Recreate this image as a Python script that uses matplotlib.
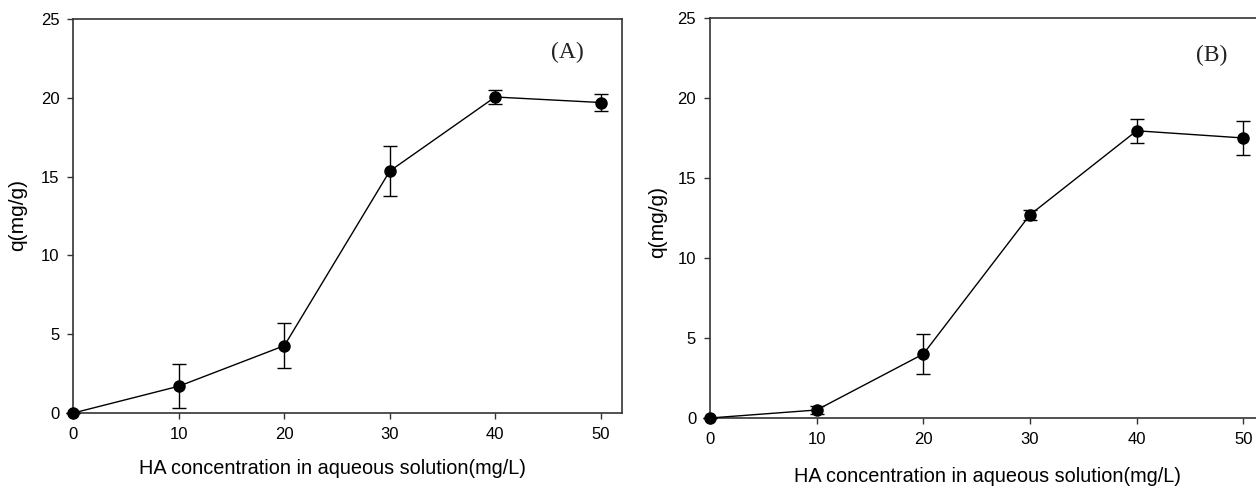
import matplotlib
matplotlib.use("Agg")
import matplotlib.pyplot as plt

conc = [0, 10, 20, 30, 40, 50]
q_A = [0.0, 1.7, 4.27, 15.35, 20.05, 19.7]
err_A = [0.0, 1.38, 1.42, 1.6, 0.45, 0.55]
q_B = [0.0, 0.5, 4.0, 12.7, 17.95, 17.5]
err_B = [0.0, 0.23, 1.28, 0.3, 0.75, 1.08]
xticks = [0, 10, 20, 30, 40, 50]
yticks = [0, 5, 10, 15, 20, 25]
xlabel = "HA concentration in aqueous solution(mg/L)"
ylabel = "q(mg/g)"
panel_labels = ["(A)", "(B)"]

plt.rcParams['font.family'] = ['Liberation Sans', 'DejaVu Sans']

fig = plt.figure(figsize=(12.56, 4.87), dpi=100)
axA = fig.add_axes([0.0585, 0.152, 0.4365, 0.809])
axB = fig.add_axes([0.5653, 0.1417, 0.4416, 0.8214])

configs = [
    (axA, q_A, err_A, panel_labels[0], (-0.101, 0.5025), (0.4716, -0.14), (0.900, 0.914)),
    (axB, q_B, err_B, panel_labels[1], (-0.094, 0.49), (0.501, -0.1475), (0.905, 0.9075)),
]

for ax, q, e, lab, ylc, xlc, tpos in configs:
    ax.errorbar(conc, q, yerr=e, fmt='-o', color='black', ecolor='black',
                markersize=8, linewidth=1.0, elinewidth=1.0, capsize=5,
                capthick=1.0, clip_on=False, zorder=3)
    ax.set_xlim(0, 52)
    ax.set_ylim(0, 25)
    ax.set_xticks(xticks)
    ax.set_yticks(yticks)
    ax.tick_params(direction='out', length=4, width=1.0, labelsize=12,
                   color='#333333', pad=6)
    for s in ax.spines.values():
        s.set_linewidth(1.2)
        s.set_color('#333333')
    ax.set_xlabel(xlabel, fontsize=14.3)
    ax.set_ylabel(ylabel, fontsize=15)
    ax.xaxis.set_label_coords(*xlc)
    ax.xaxis.label.set_va('center')
    ax.yaxis.set_label_coords(*ylc)
    ax.yaxis.label.set_va('center')
    ax.text(tpos[0], tpos[1], lab, transform=ax.transAxes, fontsize=17,
            family=['Liberation Serif', 'DejaVu Serif'], ha='center', va='center',
            color='#222222')

fig.savefig("out.png", dpi=100)
